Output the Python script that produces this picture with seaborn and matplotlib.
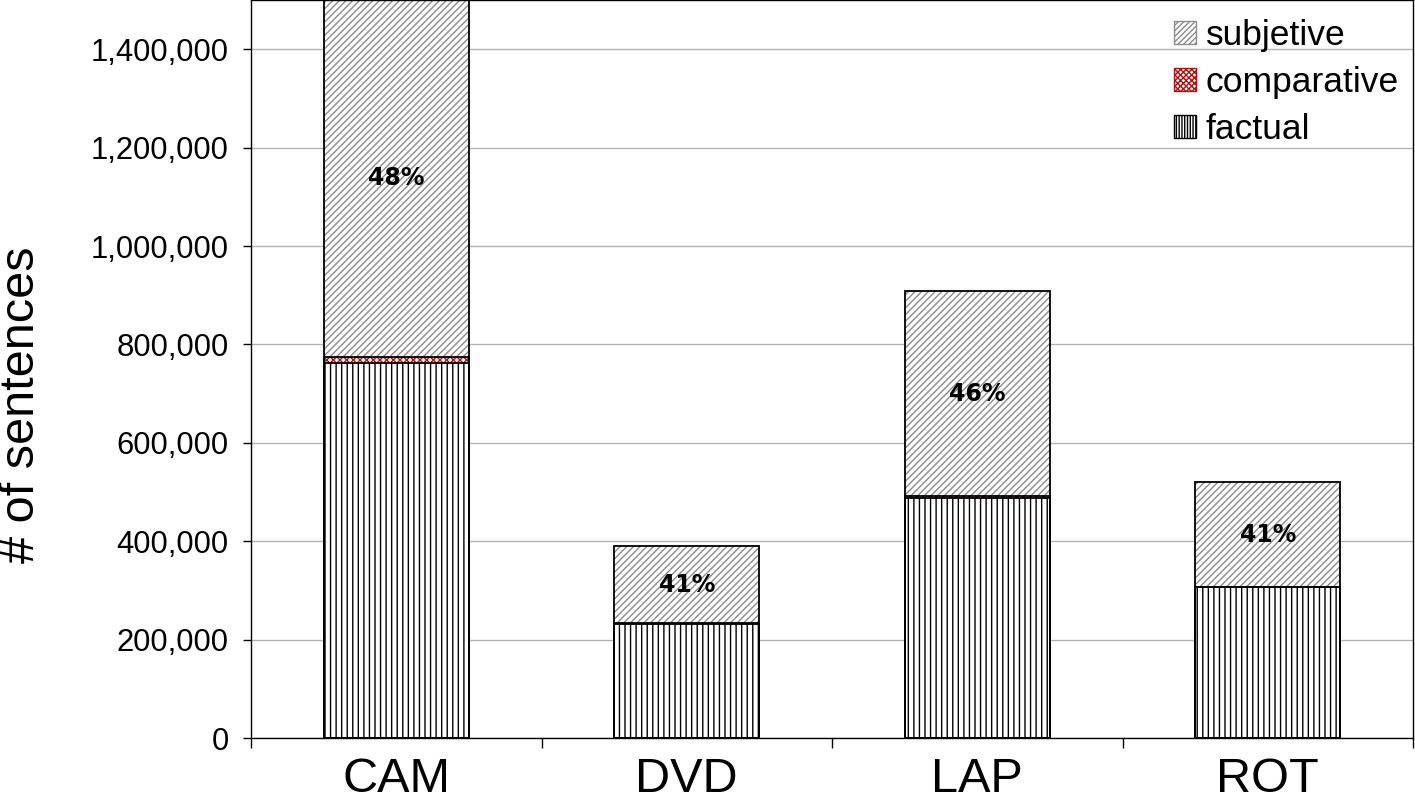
import numpy as np
import pandas as pd
import seaborn as sns
import matplotlib.pyplot as plt
from matplotlib.patches import Patch
from matplotlib.ticker import FuncFormatter

# data
categories = ['CAM', 'DVD', 'LAP', 'ROT']
factual = [763000, 231000, 487000, 306000]
comparative = [12000, 2000, 4000, 1000]
subjective = [725000, 157000, 417000, 213000]
pct_labels = ['48%', '41%', '46%', '41%']

sns.set_theme(style='white')
plt.rcParams['font.family'] = ['Liberation Sans', 'DejaVu Sans']
plt.rcParams['hatch.linewidth'] = 1.0
for k in ['text.color', 'axes.labelcolor', 'xtick.color', 'ytick.color']:
    plt.rcParams[k] = 'black'

df = pd.DataFrame({
    'category': categories,
    'factual': factual,
    'comparative': comparative,
    'subjective': subjective,
})
df['fc'] = df['factual'] + df['comparative']
df['total'] = df['fc'] + df['subjective']

ymax = 1500000

fig, ax = plt.subplots(figsize=(14.15, 7.94), dpi=100)
fig.subplots_adjust(left=251/1415, right=1413/1415, bottom=1-738/794, top=1.0)

# stacked bars drawn as overlapping cumulative layers
layers = [
    ('total', '/////', '#8c8c8c', 'white'),
    ('fc', 'xxxxx', '#b01010', 'white'),
    ('factual', '|||', 'black', 'white'),
]
for col, hatch, hcol, face in layers:
    sns.barplot(data=df, x='category', y=col, width=0.5, color=face,
                edgecolor=hcol, linewidth=0, hatch=hatch, ax=ax, zorder=2)
    sns.barplot(data=df, x='category', y=col, width=0.5, fill=False,
                edgecolor='black', linewidth=1.3, ax=ax, zorder=3)

# percentage labels in the middle of the subjective part
for i, row in df.iterrows():
    top = min(row['total'], ymax)
    ax.text(i, (row['fc'] + top) / 2, pct_labels[i], ha='center', va='center',
            fontsize=17, fontweight='bold', family='DejaVu Sans', color='black', zorder=5)

ax.set_ylim(0, ymax)
ax.set_xlim(-0.5, 3.5)
ax.set_yticks(np.arange(0, 1400001, 200000))
ax.yaxis.set_major_formatter(FuncFormatter(lambda v, p: f'{int(v):,}'))
ax.set_xticks(range(len(categories)))
ax.set_xticklabels(categories)
ax.set_xticks(np.arange(-0.5, 3.6, 1), minor=True)
ax.tick_params(axis='x', which='major', length=0, labelsize=35, pad=14)
ax.tick_params(axis='x', which='minor', length=7, width=1, color='black', bottom=True)
ax.tick_params(axis='y', length=6, width=1, color='black', labelsize=22.3, left=True, pad=10)
ax.grid(axis='y', color='#b3b3b3', linewidth=1)
ax.set_axisbelow(True)
ax.set_xlabel('')
ax.set_ylabel('# of sentences', fontsize=35)
ax.yaxis.set_label_coords(-0.178, 0.451)
for s in ax.spines.values():
    s.set_color('black')
    s.set_linewidth(1)

handles = [
    Patch(facecolor='white', edgecolor='#8c8c8c', hatch='//////', linewidth=0),
    Patch(facecolor='white', edgecolor='#b01010', hatch='xxxxxx', linewidth=0),
    Patch(facecolor='white', edgecolor='black', hatch='||||||', linewidth=0),
]
leg = ax.legend(handles, ['subjetive', 'comparative', 'factual'], loc='upper right',
                bbox_to_anchor=(1.0, 1 - 5 / 738),
                frameon=False, fontsize=25.5, handlelength=0.6, handleheight=0.6,
                handletextpad=0.28, labelspacing=0.39, borderaxespad=0.2, borderpad=0.2)
for h in leg.legend_handles:
    h.set_linewidth(1)

fig.savefig('out.png', dpi=100)
